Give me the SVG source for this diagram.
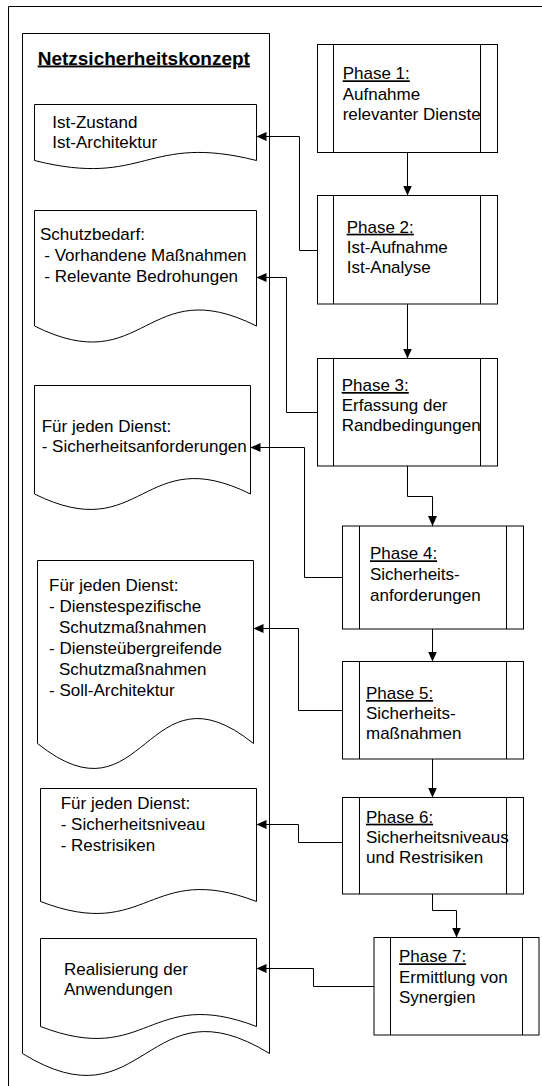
<svg xmlns="http://www.w3.org/2000/svg" width="542" height="1086" viewBox="0 0 542 1086">
<style>
.s{fill:#fff;stroke:#000;stroke-width:1}
.l{fill:none;stroke:#000;stroke-width:1}
.c{fill:none;stroke:#000;stroke-width:1;marker-end:url(#ah)}
text{font-family:"Liberation Sans",Arial,sans-serif;font-size:17px;fill:#000}
.t{font-weight:bold;font-size:19px;text-decoration:underline}
.u{text-decoration:underline}
</style>
<defs>
<marker id="ah" markerUnits="userSpaceOnUse" markerWidth="10" markerHeight="10" refX="10" refY="5" orient="auto">
<path d="M0,0.5 L10,5 L0,9.5 z" fill="#000"/>
</marker>
</defs>
<rect width="542" height="1086" fill="#fff"/>
<path class="l" d="M8.5,1090 V6.5 H545"/>

<g id="frame">
<path class="s" d="M22.5,33.5 H269.5 V1053.5 C145.75,977.5 145.75,1129.5 22.5,1053.5 Z"/>
<text class="t" x="37.7" y="64.5">Netzsicherheitskonzept</text>
</g>

<g id="doc1">
<path class="s" d="M34.5,104.5 H256.5 V160.5 C145.5,132.5 145.5,188.5 34.5,160.5 Z"/>
<text x="52.3" y="127.7">Ist-Zustand</text>
<text x="52.3" y="147.7">Ist-Architektur</text>
</g>

<g id="doc2">
<path class="s" d="M34.5,210.5 H256.5 V326 C145.5,270.5 145.5,381.5 34.5,326 Z"/>
<text x="40" y="240">Schutzbedarf:</text>
<text x="44.3" y="261">- Vorhandene Maßnahmen</text>
<text x="44.3" y="281.7">- Relevante Bedrohungen</text>
</g>

<g id="doc3">
<path class="s" d="M34.5,385.5 H250.5 V494 C142.5,440.5 142.5,547.5 34.5,494 Z"/>
<text x="41.7" y="431.7">Für jeden Dienst:</text>
<text x="41.7" y="452.3">- Sicherheitsanforderungen</text>
</g>

<g id="doc4">
<path class="s" d="M37.5,560.5 H253.5 V743.5 C145.5,657 145.5,830 37.5,743.5 Z"/>
<text x="49" y="590.7">Für jeden Dienst:</text>
<text x="49" y="611.7">- Dienstespezifische</text>
<text x="59" y="632.7">Schutzmaßnahmen</text>
<text x="49" y="654">- Diensteübergreifende</text>
<text x="59" y="675">Schutzmaßnahmen</text>
<text x="49" y="695.7">- Soll-Architektur</text>
</g>

<g id="doc5">
<path class="s" d="M40.5,788.5 H256.5 V901.5 C148.5,860 148.5,943 40.5,901.5 Z"/>
<text x="60.7" y="809">Für jeden Dienst:</text>
<text x="60.7" y="830">- Sicherheitsniveau</text>
<text x="60.7" y="850.7">- Restrisiken</text>
</g>

<g id="doc6">
<path class="s" d="M40.5,938.5 H256.5 V1026.5 C148.5,985 148.5,1068 40.5,1026.5 Z"/>
<text x="64" y="975">Realisierung der</text>
<text x="64" y="995">Anwendungen</text>
</g>

<g id="phase1">
<rect class="s" x="317.5" y="44.5" width="180" height="108"/>
<path class="l" d="M333.5,44.5 V152.5 M480.5,44.5 V152.5"/>
<text x="342.7" y="79.3"><tspan class="u">Phase 1:</tspan></text>
<text x="342.7" y="99.6">Aufnahme</text>
<text x="342.7" y="120">relevanter Dienste</text>
</g>

<g id="phase2">
<rect class="s" x="317.5" y="195.5" width="180" height="108.5"/>
<path class="l" d="M333.5,195.5 V304 M480.5,195.5 V304"/>
<text x="346.7" y="232.7"><tspan class="u">Phase 2:</tspan></text>
<text x="346.7" y="252.7">Ist-Aufnahme</text>
<text x="346.7" y="272.7">Ist-Analyse</text>
</g>

<g id="phase3">
<rect class="s" x="317.5" y="358.5" width="180" height="107.5"/>
<path class="l" d="M333.5,358.5 V466 M480.5,358.5 V466"/>
<text x="341.7" y="391"><tspan class="u">Phase 3:</tspan></text>
<text x="341.7" y="410.7">Erfassung der</text>
<text x="341.7" y="431.3">Randbedingungen</text>
</g>

<g id="phase4">
<rect class="s" x="342.5" y="526" width="181" height="103"/>
<path class="l" d="M359.5,526 V629 M506.5,526 V629"/>
<text x="370" y="559.3"><tspan class="u">Phase 4:</tspan></text>
<text x="370" y="580">Sicherheits-</text>
<text x="370" y="600.7">anforderungen</text>
</g>

<g id="phase5">
<rect class="s" x="342.5" y="661.5" width="181" height="97.5"/>
<path class="l" d="M359.5,661.5 V759 M506.5,661.5 V759"/>
<text x="366" y="699"><tspan class="u">Phase 5:</tspan></text>
<text x="366" y="719.3">Sicherheits-</text>
<text x="366" y="739.3">maßnahmen</text>
</g>

<g id="phase6">
<rect class="s" x="342.5" y="797.5" width="181" height="96.5"/>
<path class="l" d="M359.5,797.5 V894 M506.5,797.5 V894"/>
<text x="366" y="822.7"><tspan class="u">Phase 6:</tspan></text>
<text x="366" y="842.7">Sicherheitsniveaus</text>
<text x="366" y="863.3">und Restrisiken</text>
</g>

<g id="phase7">
<rect class="s" x="374" y="937.5" width="165" height="97.5"/>
<path class="l" d="M390.5,937.5 V1035 M522.5,937.5 V1035"/>
<text x="399" y="962.3"><tspan class="u">Phase 7:</tspan></text>
<text x="399" y="982.7">Ermittlung von</text>
<text x="399" y="1003.3">Synergien</text>
</g>

<g id="connectors">
<path class="c" d="M407.5,152.5 V195.5"/>
<path class="c" d="M407.5,304 V358.5"/>
<path class="c" d="M407.5,466 V496.5 H432.5 V526"/>
<path class="c" d="M432.5,629 V661.5"/>
<path class="c" d="M432.5,759 V797.5"/>
<path class="c" d="M432.5,894 V910.5 H456.5 V937.5"/>
<path class="c" d="M317.5,250.5 H299.5 V136.5 H256.5"/>
<path class="c" d="M317.5,412.5 H286.5 V277.5 H256.5"/>
<path class="c" d="M342.5,577.5 H304.5 V447.5 H250.5"/>
<path class="c" d="M342.5,710.5 H298.5 V628.5 H253.5"/>
<path class="c" d="M342.5,842.5 H298.5 V824.5 H256.5"/>
<path class="c" d="M374,986.5 H313.5 V968.5 H256.5"/>
</g>
</svg>
